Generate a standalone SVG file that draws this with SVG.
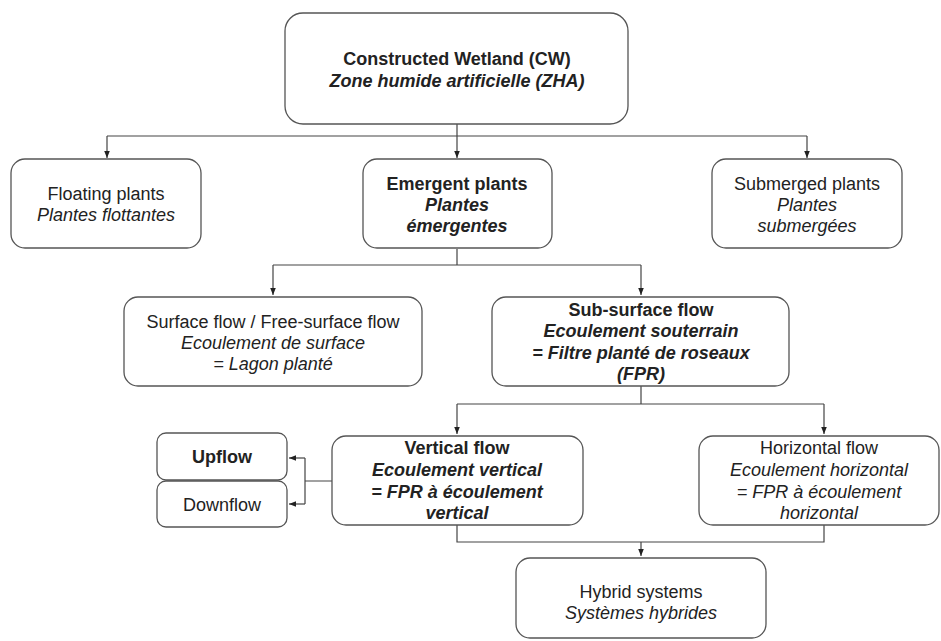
<svg xmlns="http://www.w3.org/2000/svg" width="941" height="641" viewBox="0 0 941 641">
<defs>
<marker id="ah" viewBox="0 0 10 10" refX="10" refY="5" markerWidth="7" markerHeight="7" orient="auto" markerUnits="userSpaceOnUse">
<path d="M0,1 L10,5 L0,9 Z" fill="#222"/>
</marker>
<style>
.box{fill:#fff;stroke:#555;stroke-width:1.3}
.t{font-family:"Liberation Sans",Arial,sans-serif;font-size:18px;fill:#222;text-anchor:middle}
.b{font-weight:bold}
.i{font-style:italic}
.c{fill:none;stroke:#444;stroke-width:1.2}
</style>
</defs>
<rect width="941" height="641" fill="#fff"/>
<g id="connectors">
<path class="c" d="M457,124 V136"/>
<path class="c" d="M107,136 H807"/>
<path class="c" d="M107,136 V158" marker-end="url(#ah)"/>
<path class="c" d="M457,136 V158" marker-end="url(#ah)"/>
<path class="c" d="M807,136 V158" marker-end="url(#ah)"/>
<path class="c" d="M457,249 V265 M273,265 H641"/>
<path class="c" d="M273,265 V295" marker-end="url(#ah)"/>
<path class="c" d="M641,265 V295" marker-end="url(#ah)"/>
<path class="c" d="M641,386 V404 M457,404 H824"/>
<path class="c" d="M457,404 V434" marker-end="url(#ah)"/>
<path class="c" d="M824,404 V434" marker-end="url(#ah)"/>
<path class="c" d="M332,481 H305 M305,458 V504"/>
<path class="c" d="M305,458 H289" marker-end="url(#ah)"/>
<path class="c" d="M305,504 H289" marker-end="url(#ah)"/>
<path class="c" d="M457,525 V542 H824 V525"/>
<path class="c" d="M641,542 V556" marker-end="url(#ah)"/>
</g>
<g id="cw">
<rect class="box" x="285" y="13" width="343" height="111" rx="18"/>
<text class="t b" x="457" y="65">Constructed Wetland (CW)</text>
<text class="t b i" x="457" y="87">Zone humide artificielle (ZHA)</text>
</g>
<g id="floating">
<rect class="box" x="11" y="159" width="190" height="89" rx="14"/>
<text class="t" x="106" y="200">Floating plants</text>
<text class="t i" x="106" y="221">Plantes flottantes</text>
</g>
<g id="emergent">
<rect class="box" x="363" y="159" width="189" height="89" rx="14"/>
<text class="t b" x="457" y="190">Emergent plants</text>
<text class="t b i" x="457" y="211">Plantes</text>
<text class="t b i" x="457" y="232">émergentes</text>
</g>
<g id="submerged">
<rect class="box" x="712" y="159" width="190" height="89" rx="14"/>
<text class="t" x="807" y="190">Submerged plants</text>
<text class="t i" x="807" y="211">Plantes</text>
<text class="t i" x="807" y="232">submergées</text>
</g>
<g id="surface">
<rect class="box" x="124" y="297" width="298" height="89" rx="14"/>
<text class="t" x="273" y="328">Surface flow / Free-surface flow</text>
<text class="t i" x="273" y="349">Ecoulement de surface</text>
<text class="t i" x="273" y="370">= Lagon planté</text>
</g>
<g id="subsurface">
<rect class="box" x="492" y="297" width="297" height="89" rx="14"/>
<text class="t b" x="641" y="316">Sub-surface flow</text>
<text class="t b i" x="641" y="337">Ecoulement souterrain</text>
<text class="t b i" x="641" y="359">= Filtre planté de roseaux</text>
<text class="t b i" x="641" y="380">(FPR)</text>
</g>
<g id="vertical">
<rect class="box" x="332" y="436" width="251" height="89" rx="14"/>
<text class="t b" x="457" y="454">Vertical flow</text>
<text class="t b i" x="457" y="476">Ecoulement vertical</text>
<text class="t b i" x="457" y="498">= FPR à écoulement</text>
<text class="t b i" x="457" y="519">vertical</text>
</g>
<g id="horizontal">
<rect class="box" x="699" y="436" width="240" height="89" rx="14"/>
<text class="t" x="819" y="454">Horizontal flow</text>
<text class="t i" x="819" y="476">Ecoulement horizontal</text>
<text class="t i" x="819" y="498">= FPR à écoulement</text>
<text class="t i" x="819" y="519">horizontal</text>
</g>
<g id="upflow">
<rect class="box" x="157" y="433" width="130" height="47" rx="9"/>
<text class="t b" x="222" y="463">Upflow</text>
</g>
<g id="downflow">
<rect class="box" x="157" y="481" width="130" height="46" rx="9"/>
<text class="t" x="222" y="511">Downflow</text>
</g>
<g id="hybrid">
<rect class="box" x="516" y="558" width="250" height="80" rx="14"/>
<text class="t" x="641" y="598">Hybrid systems</text>
<text class="t i" x="641" y="619">Systèmes hybrides</text>
</g>
</svg>
